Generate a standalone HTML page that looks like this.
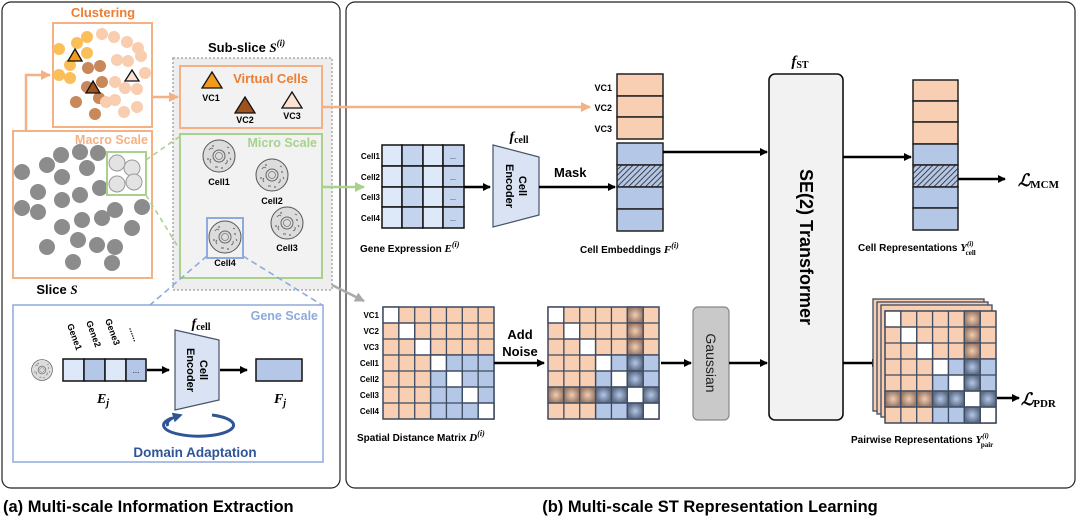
<!DOCTYPE html>
<html><head><meta charset="utf-8"><style>
html,body{margin:0;padding:0;background:#fff;}
svg{display:block;font-family:"Liberation Sans",Arial,sans-serif;}
.b{font-weight:bold;}
.m{font-family:"Liberation Serif",serif;font-style:italic;font-weight:bold;}
</style></head><body>
<svg width="1080" height="520" viewBox="0 0 1080 520" xmlns="http://www.w3.org/2000/svg">
<defs>
<marker id="ak" markerWidth="8" markerHeight="8" refX="7" refY="4" orient="auto" markerUnits="userSpaceOnUse"><path d="M0,0 L8,4 L0,8z" fill="#000"/></marker>
<marker id="ao" markerWidth="10" markerHeight="10" refX="9" refY="5" orient="auto" markerUnits="userSpaceOnUse"><path d="M0,0 L10,5 L0,10z" fill="#f4b183"/></marker>
<marker id="ag" markerWidth="10" markerHeight="10" refX="9" refY="5" orient="auto" markerUnits="userSpaceOnUse"><path d="M0,0 L10,5 L0,10z" fill="#a9d18e"/></marker>
<marker id="ay" markerWidth="10" markerHeight="10" refX="9" refY="5" orient="auto" markerUnits="userSpaceOnUse"><path d="M0,0 L10,5 L0,10z" fill="#aaa"/></marker>
<marker id="ab" markerWidth="10" markerHeight="10" refX="5" refY="5" orient="auto" markerUnits="userSpaceOnUse"><path d="M0,0 L10,5 L0,10z" fill="#2f5597"/></marker>
<pattern id="hatch" width="4" height="4" patternUnits="userSpaceOnUse" patternTransform="rotate(45)"><rect width="4" height="4" fill="#b4c7e7"/><line x1="0" y1="0" x2="0" y2="4" stroke="#222" stroke-width="1.6"/></pattern>
<radialGradient id="nO"><stop offset="0" stop-color="#f3cdb2"/><stop offset="1" stop-color="#9a7a68"/></radialGradient>
<radialGradient id="nB"><stop offset="0" stop-color="#b4c7e7"/><stop offset="1" stop-color="#5d6d86"/></radialGradient>
<g id="cell">
<circle r="16" fill="#dcdcdc" stroke="#555" stroke-width="1"/>
<circle r="6" fill="none" stroke="#666" stroke-width="1"/><circle r="3.5" fill="none" stroke="#777" stroke-width="0.8"/>
<path d="M-10,-6 q2,-3 4,-1 M6,8 q3,-1 2,-4 M-8,7 q-2,-2 0,-4 M8,-9 l2,1 M-4,11 l3,0 M11,2 l1,2" stroke="#666" fill="none" stroke-width="0.9"/>
<circle cx="-6" cy="-10" r="0.9" fill="#666"/><circle cx="10" cy="-3" r="0.9" fill="#666"/><circle cx="-11" cy="3" r="0.9" fill="#666"/><circle cx="3" cy="12" r="0.9" fill="#666"/>
</g>
</defs>

<rect x="2" y="2" width="338" height="486" rx="9" fill="#fff" stroke="#222" stroke-width="1.2"/>
<rect x="346" y="2" width="729" height="486" rx="9" fill="#fff" stroke="#222" stroke-width="1.2"/>
<text x="3" y="512" class="b" font-size="16.5">(a) Multi-scale Information Extraction</text>
<text x="710" y="512" class="b" font-size="16.5" text-anchor="middle">(b) Multi-scale ST Representation Learning</text>

<text x="103" y="17" class="b" font-size="13" fill="#ed7d31" text-anchor="middle">Clustering</text>
<rect x="53" y="23" width="99" height="104" fill="#fff" stroke="#f4b183" stroke-width="2"/>
<g fill="#fbbf5a"><circle cx="59" cy="49" r="6"/><circle cx="77" cy="43" r="6"/><circle cx="87" cy="37" r="6"/><circle cx="87" cy="53" r="6"/><circle cx="70" cy="65" r="6"/><circle cx="59" cy="75" r="6"/><circle cx="70" cy="78" r="6"/></g>
<g fill="#c8885a"><circle cx="88" cy="68" r="6"/><circle cx="100" cy="66" r="6"/><circle cx="102" cy="82" r="6"/><circle cx="87" cy="87" r="6"/><circle cx="99" cy="98" r="6"/><circle cx="76" cy="102" r="6"/><circle cx="95" cy="114" r="6"/></g>
<g fill="#f8cdb0"><circle cx="102" cy="34" r="6"/><circle cx="114" cy="37" r="6"/><circle cx="127" cy="42" r="6"/><circle cx="138" cy="48" r="6"/><circle cx="117" cy="60" r="6"/><circle cx="128" cy="61" r="6"/><circle cx="141" cy="56" r="6"/><circle cx="115" cy="82" r="6"/><circle cx="125" cy="88" r="6"/><circle cx="145" cy="73" r="6"/><circle cx="137" cy="89" r="6"/><circle cx="115" cy="100" r="6"/><circle cx="124" cy="112" r="6"/><circle cx="137" cy="107" r="6"/><circle cx="106" cy="102" r="6"/></g>
<path d="M75,49 L82,61 L68,61z" fill="#f29b1a" stroke="#111" stroke-width="1.3"/>
<path d="M93,81 L100,93 L86,93z" fill="#a0521e" stroke="#111" stroke-width="1.3"/>
<path d="M132,70 L139,81 L125,81z" fill="#fbe2d3" stroke="#111" stroke-width="1.3"/>

<rect x="13" y="131" width="139" height="147" fill="#fff" stroke="#f4b183" stroke-width="2"/>
<text x="148" y="144" font-size="12.5" fill="#f4b183" text-anchor="end" class="b">Macro Scale</text>
<g fill="#8c8c8c">
<circle cx="22" cy="172" r="8"/><circle cx="47" cy="165" r="8"/><circle cx="61" cy="155" r="8"/><circle cx="80" cy="152" r="8"/><circle cx="98" cy="153" r="8"/><circle cx="87" cy="168" r="8"/><circle cx="62" cy="177" r="8"/><circle cx="38" cy="192" r="8"/><circle cx="22" cy="208" r="8"/><circle cx="38" cy="212" r="8"/><circle cx="62" cy="200" r="8"/><circle cx="80" cy="195" r="8"/><circle cx="100" cy="188" r="8"/><circle cx="62" cy="227" r="8"/><circle cx="82" cy="220" r="8"/><circle cx="102" cy="218" r="8"/><circle cx="115" cy="210" r="8"/><circle cx="142" cy="207" r="8"/><circle cx="132" cy="228" r="8"/><circle cx="47" cy="247" r="8"/><circle cx="78" cy="240" r="8"/><circle cx="97" cy="245" r="8"/><circle cx="115" cy="247" r="8"/><circle cx="73" cy="262" r="8"/><circle cx="112" cy="263" r="8"/></g>
<rect x="107" y="152" width="39" height="43" fill="none" stroke="#a9d18e" stroke-width="2"/>
<g fill="#e3e3e3" stroke="#999" stroke-width="1"><circle cx="117" cy="163" r="8"/><circle cx="132" cy="168" r="8"/><circle cx="117" cy="184" r="8"/><circle cx="134" cy="182" r="8"/></g>
<text x="57" y="294" class="b" font-size="13" text-anchor="middle">Slice <tspan class="m">S</tspan></text>
<path d="M26,131 V75 H50" fill="none" stroke="#f4b183" stroke-width="2.5" marker-end="url(#ao)"/>

<text x="208" y="52" class="b" font-size="13">Sub-slice <tspan class="m">S</tspan><tspan class="m" font-size="9" dy="-6">(i)</tspan></text>
<rect x="173" y="58" width="159" height="232" fill="#eeeeee" stroke="#aaa" stroke-width="1.5" stroke-dasharray="2,2"/>
<rect x="180" y="66" width="142" height="62" fill="#f2f2f2" stroke="#f4b183" stroke-width="2"/>
<text x="308" y="83" class="b" font-size="13" fill="#ed7d31" text-anchor="end">Virtual Cells</text>
<path d="M212,72 L222,88 L202,88z" fill="#f29b1a" stroke="#111" stroke-width="1.3"/>
<text x="211" y="101" class="b" font-size="9" text-anchor="middle">VC1</text>
<path d="M245,97 L255,113 L235,113z" fill="#a0521e" stroke="#111" stroke-width="1.3"/>
<text x="245" y="123" class="b" font-size="9" text-anchor="middle">VC2</text>
<path d="M292,92 L302,108 L282,108z" fill="#fbe2d3" stroke="#111" stroke-width="1.3"/>
<text x="292" y="119" class="b" font-size="9" text-anchor="middle">VC3</text>
<line x1="152" y1="97" x2="178" y2="97" stroke="#f4b183" stroke-width="2.5" marker-end="url(#ao)"/>

<rect x="180" y="134" width="142" height="144" fill="#f2f2f2" stroke="#a9d18e" stroke-width="2"/>
<text x="317" y="147" class="b" font-size="12.5" fill="#a9d18e" text-anchor="end">Micro Scale</text>
<use href="#cell" x="219" y="156"/><text x="219" y="185" class="b" font-size="9" text-anchor="middle">Cell1</text>
<use href="#cell" x="272" y="175"/><text x="272" y="204" class="b" font-size="9" text-anchor="middle">Cell2</text>
<use href="#cell" x="287" y="223"/><text x="287" y="251" class="b" font-size="9" text-anchor="middle">Cell3</text>
<use href="#cell" x="225" y="237"/><text x="225" y="266" class="b" font-size="9" text-anchor="middle">Cell4</text>
<rect x="207" y="218" width="36" height="40" fill="none" stroke="#8faadc" stroke-width="2"/>
<g stroke="#a9d18e" stroke-width="1.6" stroke-dasharray="5,4"><line x1="146" y1="160" x2="179" y2="137"/><line x1="146" y1="195" x2="180" y2="250"/></g>
<g stroke="#8faadc" stroke-width="1.6" stroke-dasharray="6,4"><line x1="207" y1="256" x2="150" y2="305"/><line x1="243" y1="256" x2="322" y2="305"/></g>

<rect x="13" y="305" width="310" height="157" fill="#fff" stroke="#8faadc" stroke-width="1.5"/>
<text x="318" y="320" font-size="12.5" fill="#8faadc" text-anchor="end" class="b">Gene Scale</text>
<use href="#cell" transform="translate(42,370) scale(0.65)"/>
<g stroke="#111" stroke-width="1.5"><rect x="63" y="359" width="21" height="22" fill="#dde8f8"/><rect x="84" y="359" width="21" height="22" fill="#b4c7e7"/><rect x="105" y="359" width="21" height="22" fill="#dde8f8"/><rect x="126" y="359" width="20" height="22" fill="#b4c7e7"/></g>
<text x="136" y="373" font-size="8" text-anchor="middle">...</text>
<g class="b" font-size="9"><text transform="translate(67,325) rotate(70)">Gene1</text><text transform="translate(86,322) rotate(70)">Gene2</text><text transform="translate(105,320) rotate(70)">Gene3</text><text transform="translate(129,328) rotate(70)">......</text></g>
<line x1="147" y1="370" x2="169" y2="370" stroke="#000" stroke-width="2.5" marker-end="url(#ak)"/>
<path d="M175,330 L219,340 L219,400 L175,410z" fill="#dae3f3" stroke="#44546a" stroke-width="1.2"/>
<text transform="translate(197,370) rotate(90)" text-anchor="middle" class="b" font-size="11"><tspan x="0" dy="-3">Cell</tspan><tspan x="0" dy="13">Encoder</tspan></text>
<text x="201" y="328" class="m" font-size="14" text-anchor="middle">f<tspan font-size="10" font-style="normal" dy="2">cell</tspan></text>
<line x1="220" y1="370" x2="247" y2="370" stroke="#000" stroke-width="2.5" marker-end="url(#ak)"/>
<rect x="256" y="359" width="46" height="22" fill="#b4c7e7" stroke="#111" stroke-width="1.5"/>
<text x="103" y="403" class="m" font-size="14" text-anchor="middle">E<tspan font-size="10" dy="3">j</tspan></text>
<text x="280" y="403" class="m" font-size="14" text-anchor="middle">F<tspan font-size="10" dy="3">j</tspan></text>
<path d="M172,418 A35,11 0 1 0 212,415" fill="none" stroke="#2f5597" stroke-width="3"/>
<path d="M168,426 A35,11 0 0 1 178,416" fill="none" stroke="#2f5597" stroke-width="3" marker-end="url(#ab)"/>
<text x="195" y="457" class="b" font-size="13.5" fill="#2f5597" text-anchor="middle">Domain Adaptation</text>

<line x1="322" y1="107" x2="590" y2="107" stroke="#f4b183" stroke-width="2.5" marker-end="url(#ao)"/>
<line x1="322" y1="187" x2="364" y2="187" stroke="#a9d18e" stroke-width="2.5" marker-end="url(#ag)"/>
<line x1="332" y1="285" x2="364" y2="301" stroke="#aaa" stroke-width="2.5" marker-end="url(#ay)"/>

<g stroke="#111" stroke-width="1.5">
<rect x="382" y="145" width="20" height="21" fill="#dde8f8"/><rect x="402" y="145" width="21" height="21" fill="#c5d4ee"/><rect x="423" y="145" width="20" height="21" fill="#dde8f8"/><rect x="443" y="145" width="21" height="21" fill="#c5d4ee"/>
<rect x="382" y="166" width="20" height="21" fill="#dde8f8"/><rect x="402" y="166" width="21" height="21" fill="#c5d4ee"/><rect x="423" y="166" width="20" height="21" fill="#dde8f8"/><rect x="443" y="166" width="21" height="21" fill="#c5d4ee"/>
<rect x="382" y="187" width="20" height="20" fill="#dde8f8"/><rect x="402" y="187" width="21" height="20" fill="#c5d4ee"/><rect x="423" y="187" width="20" height="20" fill="#dde8f8"/><rect x="443" y="187" width="21" height="20" fill="#c5d4ee"/>
<rect x="382" y="207" width="20" height="21" fill="#dde8f8"/><rect x="402" y="207" width="21" height="21" fill="#c5d4ee"/><rect x="423" y="207" width="20" height="21" fill="#dde8f8"/><rect x="443" y="207" width="21" height="21" fill="#c5d4ee"/></g>
<g font-size="7" text-anchor="middle"><text x="453" y="159">...</text><text x="453" y="180">...</text><text x="453" y="200">...</text><text x="453" y="221">...</text></g>
<g font-size="8" class="b" text-anchor="end"><text x="380" y="159">Cell1</text><text x="380" y="180">Cell2</text><text x="380" y="200">Cell3</text><text x="380" y="221">Cell4</text></g>
<text x="360" y="252" class="b" font-size="10">Gene Expression <tspan class="m" font-size="11">E</tspan><tspan class="m" font-size="8" dy="-5">(i)</tspan></text>
<line x1="464" y1="187" x2="490" y2="187" stroke="#000" stroke-width="2.5" marker-end="url(#ak)"/>
<path d="M493,145 L539,157 L539,215 L493,227z" fill="#dae3f3" stroke="#44546a" stroke-width="1.2"/>
<text transform="translate(516,186) rotate(90)" text-anchor="middle" class="b" font-size="11"><tspan x="0" dy="-3">Cell</tspan><tspan x="0" dy="13">Encoder</tspan></text>
<text x="519" y="141" class="m" font-size="14" text-anchor="middle">f<tspan font-size="10" font-style="normal" dy="2">cell</tspan></text>
<line x1="539" y1="187" x2="615" y2="187" stroke="#000" stroke-width="2.5" marker-end="url(#ak)"/>
<text x="554" y="177" class="b" font-size="13">Mask</text>

<g stroke="#222" stroke-width="1.5">
<rect x="617" y="74" width="46" height="22" fill="#f8cfb3"/><rect x="617" y="96" width="46" height="21" fill="#f8cfb3"/><rect x="617" y="117" width="46" height="22" fill="#f8cfb3"/>
<rect x="617" y="143" width="46" height="22" fill="#b4c7e7"/><rect x="617" y="165" width="46" height="22" fill="url(#hatch)"/><rect x="617" y="187" width="46" height="22" fill="#b4c7e7"/><rect x="617" y="209" width="46" height="22" fill="#b4c7e7"/></g>
<g class="b" font-size="9" text-anchor="end"><text x="612" y="91">VC1</text><text x="612" y="111">VC2</text><text x="612" y="132">VC3</text></g>
<text x="580" y="253" class="b" font-size="10">Cell Embeddings <tspan class="m" font-size="11">F</tspan><tspan class="m" font-size="8" dy="-5">(i)</tspan></text>
<line x1="663" y1="152" x2="767" y2="152" stroke="#000" stroke-width="2.5" marker-end="url(#ak)"/>

<rect x="769" y="74" width="74" height="346" rx="6" fill="#f2f2f2" stroke="#111" stroke-width="1.6"/>
<text transform="translate(800,247) rotate(90)" text-anchor="middle" class="b" font-size="18">SE(2) Transformer</text>
<text x="800" y="66" class="m" font-size="15" text-anchor="middle">f<tspan font-size="10" font-style="normal" dy="2">ST</tspan></text>
<line x1="843" y1="157" x2="911" y2="157" stroke="#000" stroke-width="2.5" marker-end="url(#ak)"/>

<g stroke="#222" stroke-width="1.5">
<rect x="913" y="80" width="45" height="21" fill="#f8cfb3"/><rect x="913" y="101" width="45" height="21" fill="#f8cfb3"/><rect x="913" y="122" width="45" height="22" fill="#f8cfb3"/>
<rect x="913" y="144" width="45" height="21" fill="#b4c7e7"/><rect x="913" y="165" width="45" height="22" fill="url(#hatch)"/><rect x="913" y="187" width="45" height="21" fill="#b4c7e7"/><rect x="913" y="208" width="45" height="22" fill="#b4c7e7"/></g>
<line x1="958" y1="179" x2="1005" y2="179" stroke="#000" stroke-width="2.5" marker-end="url(#ak)"/>
<text x="1018" y="186" class="m" font-size="17">ℒ<tspan font-size="11" font-style="normal" dy="2">MCM</tspan></text>
<text x="858" y="251" class="b" font-size="10">Cell Representations <tspan class="m" font-size="11">Y</tspan><tspan class="m" font-size="7" dy="-5">(i)</tspan><tspan font-size="7" font-family="Liberation Serif" dx="-8" dy="9">cell</tspan></text>

<g id="dm" stroke="#3d4a5f" stroke-width="1.3">
<g fill="#f8cfb3"><rect x="383" y="307" width="111" height="112"/></g>
<g fill="#b4c7e7"><rect x="430.6" y="354.9" width="63.4" height="64.1"/></g>
<g fill="#fff"><rect x="383" y="307" width="15.86" height="16"/><rect x="398.86" y="323" width="15.86" height="16"/><rect x="414.71" y="339" width="15.86" height="16"/><rect x="430.57" y="355" width="15.86" height="16"/><rect x="446.43" y="371" width="15.86" height="16"/><rect x="462.29" y="387" width="15.86" height="16"/><rect x="478.14" y="403" width="15.86" height="16"/></g>
<g fill="none"><path d="M398.86,307V419M414.71,307V419M430.57,307V419M446.43,307V419M462.29,307V419M478.14,307V419M383,323H494M383,339H494M383,355H494M383,371H494M383,387H494M383,403H494"/><rect x="383" y="307" width="111" height="112"/></g>
</g>
<g class="b" font-size="8" text-anchor="end"><text x="379" y="318">VC1</text><text x="379" y="334">VC2</text><text x="379" y="350">VC3</text><text x="379" y="366">Cell1</text><text x="379" y="382">Cell2</text><text x="379" y="398">Cell3</text><text x="379" y="414">Cell4</text></g>
<text x="357" y="441" class="b" font-size="10">Spatial Distance Matrix <tspan class="m" font-size="11">D</tspan><tspan class="m" font-size="8" dy="-5">(i)</tspan></text>
<text x="520" y="339" class="b" font-size="13" text-anchor="middle">Add</text>
<text x="520" y="356" class="b" font-size="13" text-anchor="middle">Noise</text>
<line x1="494" y1="363" x2="544" y2="363" stroke="#000" stroke-width="2.5" marker-end="url(#ak)"/>

<g transform="translate(165,0)">
<use href="#dm"/>
<g stroke="#3d4a5f" stroke-width="1.3">
<rect x="462.29" y="307" width="15.86" height="16" fill="url(#nO)"/><rect x="462.29" y="323" width="15.86" height="16" fill="url(#nO)"/><rect x="462.29" y="339" width="15.86" height="16" fill="url(#nO)"/>
<rect x="462.29" y="355" width="15.86" height="16" fill="url(#nB)"/><rect x="462.29" y="371" width="15.86" height="16" fill="url(#nB)"/><rect x="462.29" y="403" width="15.86" height="16" fill="url(#nB)"/>
<rect x="383" y="387" width="15.86" height="16" fill="url(#nO)"/><rect x="398.86" y="387" width="15.86" height="16" fill="url(#nO)"/><rect x="414.71" y="387" width="15.86" height="16" fill="url(#nO)"/>
<rect x="430.57" y="387" width="15.86" height="16" fill="url(#nB)"/><rect x="446.43" y="387" width="15.86" height="16" fill="url(#nB)"/><rect x="478.14" y="387" width="15.86" height="16" fill="url(#nB)"/>
</g></g>
<line x1="661" y1="363" x2="691" y2="363" stroke="#000" stroke-width="2.5" marker-end="url(#ak)"/>
<rect x="693" y="307" width="36" height="113" rx="5" fill="#c9c9c9" stroke="#888" stroke-width="1.2"/>
<text transform="translate(711,363) rotate(90)" text-anchor="middle" font-size="14" fill="#222" dy="5">Gaussian</text>
<line x1="729" y1="363" x2="767" y2="363" stroke="#000" stroke-width="2.5" marker-end="url(#ak)"/>
<line x1="843" y1="363" x2="879" y2="363" stroke="#000" stroke-width="2.5" marker-end="url(#ak)"/>

<g transform="translate(490,-8)"><rect x="383" y="307" width="111" height="112" fill="#f8cfb3" stroke="#3d4a5f" stroke-width="1.3"/></g>
<g transform="translate(494,-5)"><rect x="383" y="307" width="111" height="112" fill="#f8cfb3" stroke="#3d4a5f" stroke-width="1.3"/></g>
<g transform="translate(498,-2)"><rect x="383" y="307" width="111" height="112" fill="#f8cfb3" stroke="#3d4a5f" stroke-width="1.3"/></g>
<g transform="translate(502,4)">
<use href="#dm"/>
<g stroke="#3d4a5f" stroke-width="1.3">
<rect x="462.29" y="307" width="15.86" height="16" fill="url(#nO)"/><rect x="462.29" y="323" width="15.86" height="16" fill="url(#nO)"/><rect x="462.29" y="339" width="15.86" height="16" fill="url(#nO)"/>
<rect x="462.29" y="355" width="15.86" height="16" fill="url(#nB)"/><rect x="462.29" y="371" width="15.86" height="16" fill="url(#nB)"/><rect x="462.29" y="403" width="15.86" height="16" fill="url(#nB)"/>
<rect x="383" y="387" width="15.86" height="16" fill="url(#nO)"/><rect x="398.86" y="387" width="15.86" height="16" fill="url(#nO)"/><rect x="414.71" y="387" width="15.86" height="16" fill="url(#nO)"/>
<rect x="430.57" y="387" width="15.86" height="16" fill="url(#nB)"/><rect x="446.43" y="387" width="15.86" height="16" fill="url(#nB)"/><rect x="478.14" y="387" width="15.86" height="16" fill="url(#nB)"/>
</g></g>
<line x1="997" y1="398" x2="1019" y2="398" stroke="#000" stroke-width="2.5" marker-end="url(#ak)"/>
<text x="1021" y="405" class="m" font-size="17">ℒ<tspan font-size="11" font-style="normal" dy="2">PDR</tspan></text>
<text x="851" y="443" class="b" font-size="10">Pairwise Representations <tspan class="m" font-size="11">Y</tspan><tspan class="m" font-size="7" dy="-5">(i)</tspan><tspan font-size="7" font-family="Liberation Serif" dx="-8" dy="9">pair</tspan></text>
</svg>
</body></html>
